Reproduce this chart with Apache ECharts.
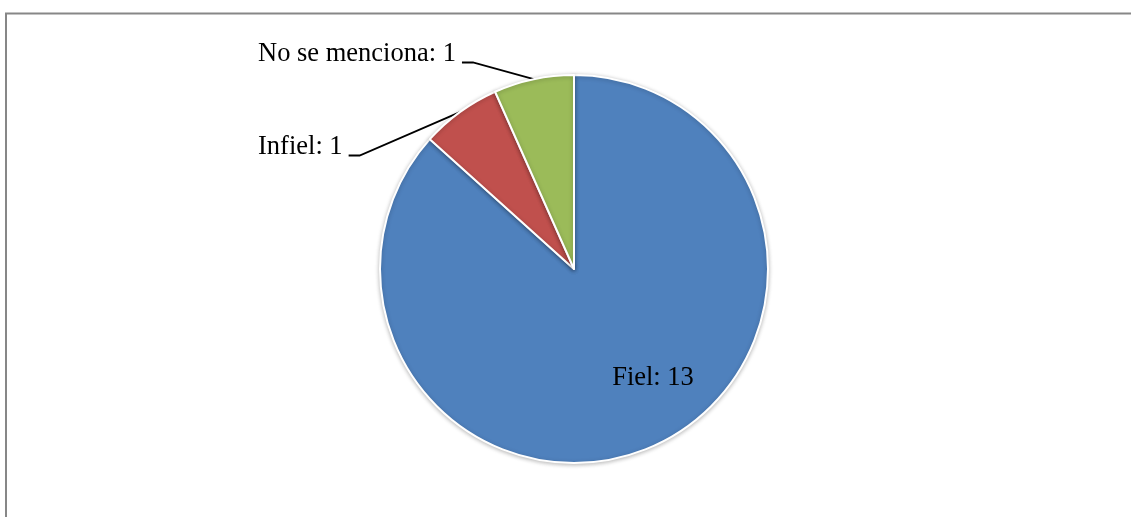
<!DOCTYPE html>
<html>
<head>
<meta charset="utf-8">
<script src="https://cdn.jsdelivr.net/npm/echarts@6/dist/echarts.min.js"></script>
<style>
  html, body { margin: 0; padding: 0; background: #fff; }
  #chart { width: 1131px; height: 517px; }
</style>
</head>
<body>
<div id="chart"></div>
<script>
const categories = ['Fiel', 'Infiel', 'No se menciona']
const counts = [13, 1, 1]
const colors = ['#4F81BD', '#C0504D', '#9BBB59']

// where each label sits (left edge / vertical middle), Fiel is inside the slice
const labelPos = [
  { x: 653, y: 378, align: 'center' },
  { x: 258, y: 147, align: 'left' },
  { x: 258, y: 54, align: 'left' }
]

const chart = echarts.init(document.getElementById('chart'), null, { renderer: 'canvas' })

chart.setOption({
  backgroundColor: '#fff',
  animation: false,
  graphic: [{
    type: 'rect',
    shape: { x: 6, y: 13.5, width: 1300, height: 700 },
    style: { fill: 'none', stroke: '#878787', lineWidth: 2 },
    silent: true
  }],
  series: [{
    type: 'pie',
    center: [574, 269],
    radius: [0, 194],
    startAngle: 90,
    clockwise: true,
    data: categories.map((name, i) => ({
      name,
      value: counts[i],
      itemStyle: { color: colors[i] },
      label: i === 0 ? { position: 'inside' } : { position: 'outside' },
      labelLine: { show: i !== 0 }
    })),
    itemStyle: {
      borderColor: '#fff', borderWidth: 2,
      shadowBlur: 4, shadowColor: 'rgba(0,0,0,0.25)', shadowOffsetY: 1
    },
    label: {
      formatter: '{b}: {c}',
      color: '#000',
      fontSize: 26.5,
      fontFamily: "'Liberation Serif', 'Times New Roman', serif"
    },
    labelLine: {
      lineStyle: { color: '#000', width: 1.8 }
    },
    labelLayout: function (params) {
      const p = labelPos[params.dataIndex]
      if (params.dataIndex === 0) {
        return { x: p.x, y: p.y, align: 'center', verticalAlign: 'middle' }
      }
      const w = params.labelRect.width
      const start = params.labelLinePoints ? params.labelLinePoints[0] : null
      const endX = p.x + w + 6
      const lineY = p.y + 8.5
      const out = { x: p.x, y: p.y, align: 'left', verticalAlign: 'middle' }
      if (start) {
        out.labelLinePoints = [start, [endX + 11, lineY], [endX, lineY]]
      }
      return out
    }
  }]
})
</script>
</body>
</html>
